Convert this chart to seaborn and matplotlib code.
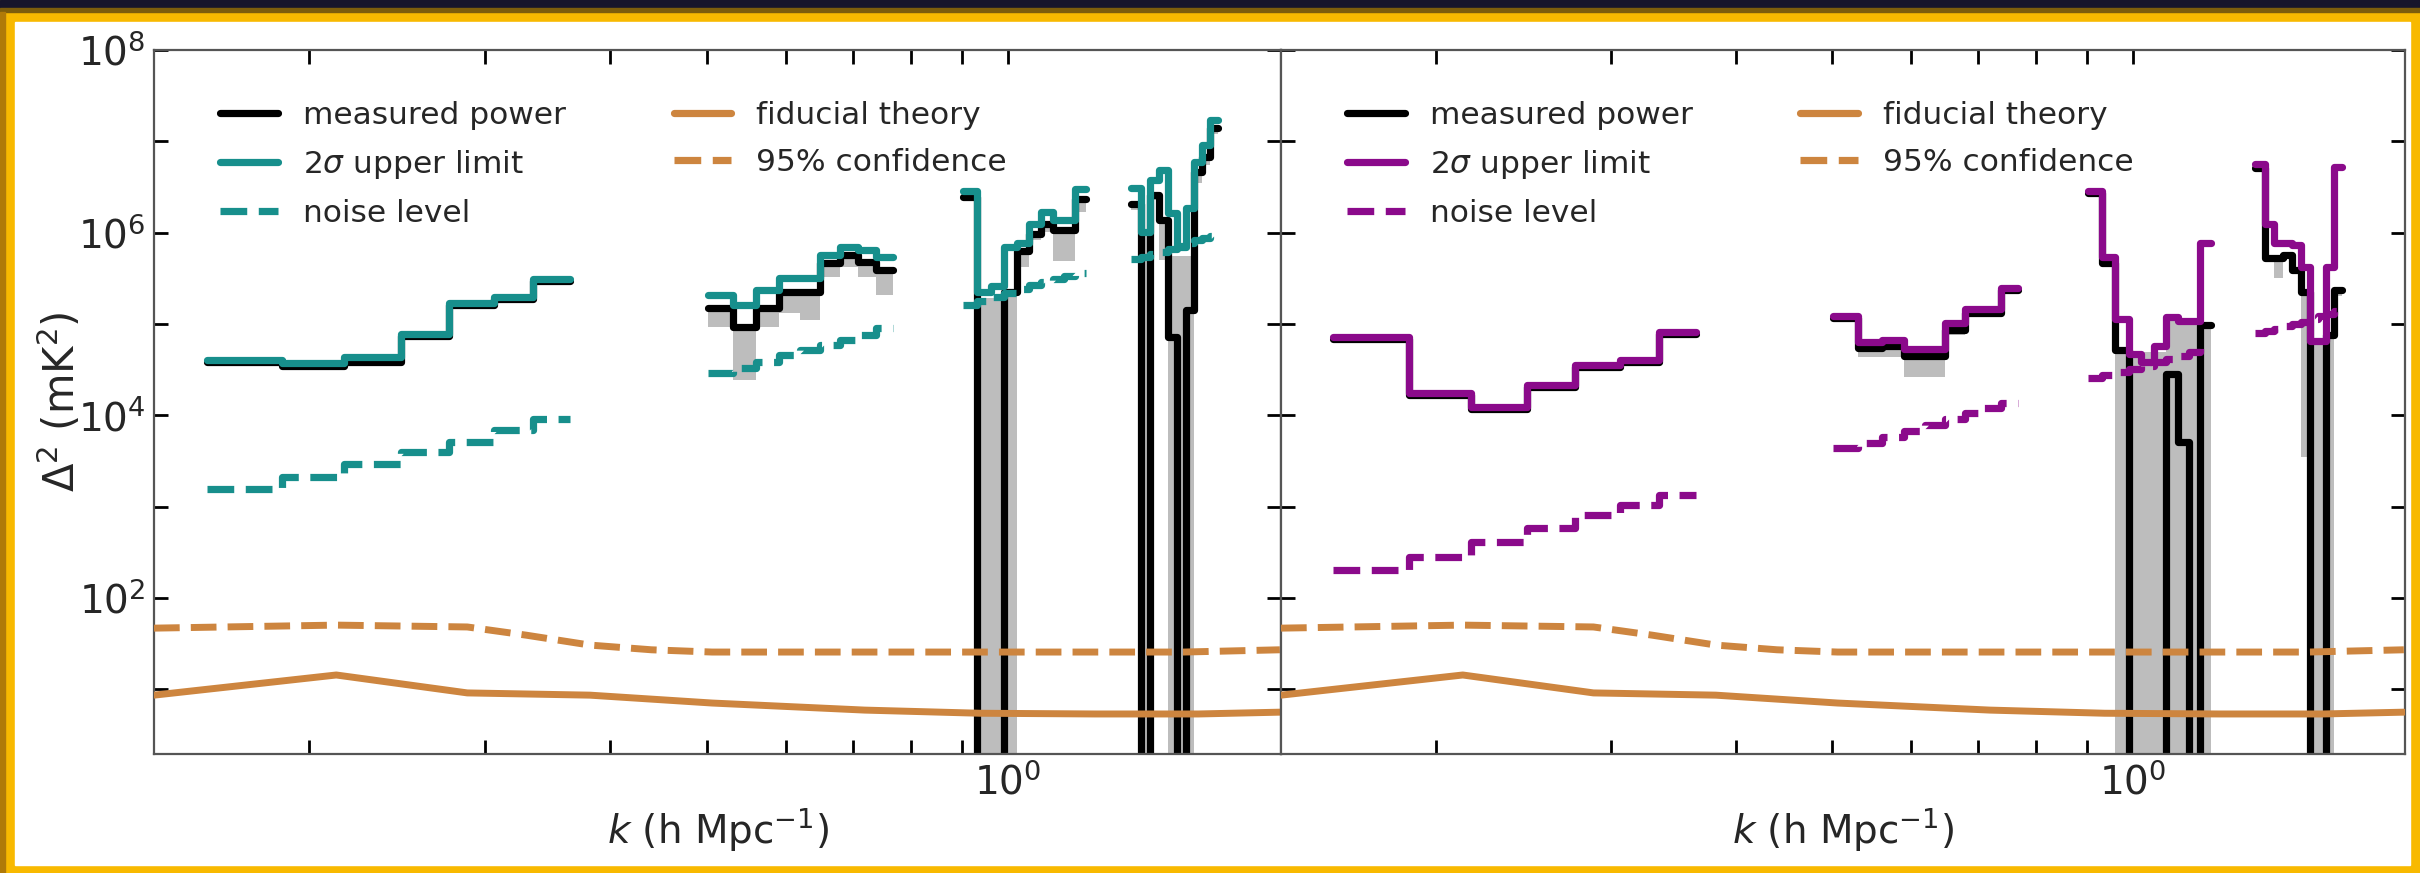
import numpy as np
import pandas as pd
import matplotlib
matplotlib.use("Agg")
import matplotlib.pyplot as plt
from matplotlib.patches import Rectangle
from matplotlib.lines import Line2D
from matplotlib.ticker import LogLocator, FuncFormatter, NullFormatter, NullLocator, LogFormatterSciNotation
import seaborn as sns

# ---------------------------------------------------------------------------
# k-bin edges (h/Mpc) of the four contiguous blocks of the spectrum
edges_1 = [0.158, 0.188, 0.217, 0.247, 0.276, 0.306, 0.335, 0.365]
edges_2 = [0.501, 0.531, 0.560, 0.590, 0.619, 0.649, 0.679, 0.708, 0.738, 0.767]
edges_3 = [0.902, 0.932, 0.961, 0.991, 1.020, 1.050, 1.080, 1.109, 1.139, 1.168, 1.198]
edges_4 = [1.327, 1.357, 1.386, 1.416, 1.445, 1.475, 1.505, 1.534, 1.564, 1.593, 1.623]

# ---- left field: Delta^2 in mK^2 (negative = measured power below zero)
a_upper_1 = [4.03e4, 3.73e4, 4.34e4, 7.75e4, 1.69e5, 1.97e5, 3.10e5]
a_power_1 = [3.87e4, 3.46e4, 3.87e4, 7.38e4, 1.62e5, 1.89e5, 2.96e5]
a_lo_1 = [3.6e4, 3.2e4, 3.6e4, 6.9e4, 1.5e5, 1.75e5, 2.75e5]
a_hi_1 = [3.87e4, 3.46e4, 3.87e4, 7.38e4, 1.62e5, 1.89e5, 2.96e5]
a_noise_1 = [1.56e3, 2.10e3, 2.92e3, 3.95e3, 5.08e3, 6.89e3, 9.09e3]

a_upper_2 = [2.07e5, 1.61e5, 2.35e5, 3.18e5, 3.18e5, 5.69e5, 6.96e5, 6.45e5, 5.40e5]
a_power_2 = [1.49e5, 9.25e4, 1.49e5, 2.23e5, 2.23e5, 4.65e5, 5.69e5, 4.76e5, 3.89e5]
a_lo_2 = [9.25e4, 2.43e4, 9.25e4, 1.31e5, 1.10e5, 3.26e5, 4.20e5, 3.26e5, 2.07e5]
a_hi_2 = [1.49e5, 9.25e4, 1.49e5, 2.23e5, 2.23e5, 4.65e5, 5.69e5, 4.76e5, 3.89e5]
a_noise_2 = [2.90e4, 3.29e4, 3.83e4, 4.56e4, 5.17e4, 5.87e4, 6.66e4, 7.56e4, 9.01e4]

a_upper_3 = [2.86e6, 2.23e5, 2.60e5, 6.96e5, 7.69e5, 1.24e6, 1.68e6, 1.37e6, 1.37e6, 3.01e6]
a_power_3 = [2.45e6, -1.5e5, -1.2e5, 2.23e5, 6.28e5, 9.66e5, 1.24e6, 1.07e6, 1.07e6, 2.33e6]
a_lo_3 = [2.27e6, -6e5, -6e5, -5e5, 4.20e5, 8.30e5, 1.02e6, 4.89e5, 4.89e5, 1.68e6]
a_hi_3 = [2.45e6, 1.92e5, 1.92e5, 2.23e5, 6.28e5, 9.66e5, 1.24e6, 1.07e6, 1.07e6, 2.33e6]
a_noise_3 = [1.61e5, 1.78e5, 1.97e5, 2.18e5, 2.41e5, 2.67e5, 2.88e5, 3.10e5, 3.35e5, 3.61e5]

a_upper_4 = [3.08e6, 1.02e6, 3.77e6, 4.85e6, 1.64e6, 6.96e5, 1.86e6, 5.93e6, 9.10e6, 1.71e7]
a_power_4 = [2.06e6, -8e5, 2.58e6, 1.37e6, 7.19e4, -3e5, 1.42e5, 4.61e6, 6.74e6, 1.40e7]
a_lo_4 = [1.77e6, -2e6, 2.27e6, 5.0e5, -5e5, -5e5, -5e5, 3.5e6, 5.5e6, 1.2e7]
a_hi_4 = [2.06e6, 9.5e5, 2.58e6, 1.37e6, 5.5e5, 5.5e5, 5.5e5, 4.61e6, 6.74e6, 1.40e7]
a_noise_4 = [5.14e5, 5.40e5, 5.83e5, 6.13e5, 6.61e5, 7.13e5, 7.69e5, 8.30e5, 8.73e5, 9.18e5]

# ---- right field
b_upper_1 = [7.19e4, 1.75e4, 1.23e4, 2.14e4, 3.55e4, 4.03e4, 8.15e4]
b_power_1 = [6.8e4, 1.66e4, 1.17e4, 2.03e4, 3.37e4, 3.83e4, 7.74e4]
b_lo_1 = [6.4e4, 1.55e4, 1.1e4, 1.9e4, 3.15e4, 3.6e4, 7.3e4]
b_hi_1 = [6.8e4, 1.66e4, 1.17e4, 2.03e4, 3.37e4, 3.83e4, 7.74e4]
b_noise_1 = [202, 280, 408, 582, 807, 1038, 1336]

b_upper_2 = [1.22e5, 6.34e4, 6.66e4, 5.31e4, 5.31e4, 1.02e5, 1.46e5, 1.46e5, 2.47e5]
b_power_2 = [1.16e5, 5.45e4, 5.73e4, 4.45e4, 4.45e4, 8.57e4, 1.31e5, 1.31e5, 2.35e5]
b_lo_2 = [1.10e5, 4.34e4, 4.34e4, 2.62e4, 2.62e4, 7.56e4, 1.22e5, 1.22e5, 2.18e5]
b_hi_2 = [1.16e5, 5.45e4, 5.73e4, 4.45e4, 4.45e4, 8.57e4, 1.31e5, 1.31e5, 2.35e5]
b_noise_2 = [4.37e3, 4.97e3, 5.77e3, 6.71e3, 7.81e3, 9.09e3, 1.06e4, 1.20e4, 1.36e4]

b_upper_3 = [2.86e6, 5.40e5, 1.13e5, 4.68e4, 3.83e4, 5.73e4, 1.19e5, 1.08e5, 1.08e5, 7.69e5]
b_power_3 = [2.7e6, 4.65e5, 5.17e4, -2e5, -2e5, -2e5, 2.83e4, 5.08e3, -1e5, 9.73e4]
b_lo_3 = [2.5e6, 4.2e5, -5e5, -5e5, -5e5, -5e5, -5e5, -5e5, -5e5, -5e5]
b_hi_3 = [2.7e6, 4.65e5, 5.17e4, 4.92e4, 4.92e4, 4.92e4, 1.13e5, 1.08e5, 1.08e5, 9.73e4]
b_noise_3 = [2.55e4, 2.75e4, 2.97e4, 3.21e4, 3.46e4, 3.83e4, 4.13e4, 4.45e4, 4.92e4, 5.45e4]

b_upper_4 = [5.64e6, 1.24e6, 7.69e5, 7.69e5, 7.31e5, 4.20e5, 6.50e4, 6.50e4, 4.20e5, 5.24e6]
b_power_4 = [5.1e6, 5.27e5, 5.27e5, 5.69e5, 3.89e5, 2.23e5, -2e5, -2e5, 7.5e4, 2.35e5]
b_lo_4 = [4.6e6, 4.8e5, 3.18e5, 5.2e5, 3.5e5, 3.48e3, -5e5, -5e5, -5e5, 2.0e5]
b_hi_4 = [5.1e6, 5.27e5, 5.27e5, 5.69e5, 3.89e5, 2.23e5, 6.5e4, 6.5e4, 7.5e4, 2.35e5]
b_noise_4 = [7.94e4, 8.36e4, 8.80e4, 9.49e4, 1.0e5, 1.05e5, 1.13e5, 1.22e5, 1.28e5, 1.38e5]

# ---- theory curves (same for both fields)
theory_k = [0.14, 0.213, 0.288, 0.382, 0.506, 0.719, 0.937, 1.222, 1.55, 1.87]
theory_fiducial = [8.6, 14.3, 9.1, 8.6, 7.05, 5.9, 5.45, 5.35, 5.35, 5.6]
conf_k = [0.14, 0.213, 0.288, 0.33, 0.382, 0.44, 0.506, 1.0, 1.5, 1.87]
conf_95 = [46.6, 50.3, 48.0, 39.0, 30.4, 27.0, 25.5, 25.5, 25.5, 27.0]

legend_labels = ["measured power", r"2$\sigma$ upper limit", "noise level",
                 "fiducial theory", "95% confidence"]

# ---------------------------------------------------------------------------
TEAL = "#178f8c"
PURPLE = "#8b0a8b"
ORANGE = "#cd853f"
GREY = "#bdbdbd"
LW = 5.2

sns.set_theme(style="ticks")
plt.rcParams["font.family"] = ["DejaVu Sans"]
plt.rcParams["mathtext.fontset"] = "dejavusans"


def step_line(ax, edges, vals, **kw):
    df = pd.DataFrame({"k": edges, "v": list(vals) + [vals[-1]]})
    sns.lineplot(data=df, x="k", y="v", ax=ax, drawstyle="steps-post",
                 estimator=None, sort=False, errorbar=None, legend=False, **kw)


def draw_field(ax, blocks, color):
    for edges, up, pw, lo, hi, nz in blocks:
        ax.fill_between(edges, list(lo) + [lo[-1]], list(hi) + [hi[-1]],
                        step="post", color=GREY, lw=0, zorder=1)
        step_line(ax, edges, pw, color="black", lw=LW, zorder=2)
        step_line(ax, edges, nz, color=color, lw=LW, linestyle="--", zorder=2.5)
        step_line(ax, edges, up, color=color, lw=LW, zorder=3)
    sns.lineplot(x=theory_k, y=theory_fiducial, ax=ax, color=ORANGE, lw=5,
                 estimator=None, sort=False, errorbar=None, legend=False, zorder=4)
    sns.lineplot(x=conf_k, y=conf_95, ax=ax, color=ORANGE, lw=5, linestyle="--",
                 estimator=None, sort=False, errorbar=None, legend=False, zorder=4)


def y_fmt(v, pos):
    e = int(round(np.log10(v)))
    return rf"$10^{{{e}}}$" if (e % 2 == 0 and e >= 2) else ""


def style_axes(ax, color, show_y):
    ax.set_xscale("log")
    ax.set_yscale("log")
    ax.set_xlim(0.14, 1.875)
    ax.set_ylim(1.95, 1e8)
    ax.xaxis.set_major_locator(LogLocator(base=10))
    ax.xaxis.set_major_formatter(LogFormatterSciNotation())
    ax.xaxis.set_minor_locator(LogLocator(base=10, subs=np.arange(2, 10)))
    ax.xaxis.set_minor_formatter(NullFormatter())
    ax.yaxis.set_major_locator(LogLocator(base=10, numticks=20))
    ax.yaxis.set_major_formatter(FuncFormatter(y_fmt))
    ax.yaxis.set_minor_locator(NullLocator())
    ax.tick_params(which="both", direction="in", top=True, right=True,
                   length=10, width=2, color="black", labelsize=28, pad=6)
    ax.tick_params(axis="y", labelleft=show_y)
    for s in ax.spines.values():
        s.set_color("#555555")
        s.set_linewidth(1.6)
    ax.set_facecolor("white")
    ax.set_xlabel(r"$k$ (h Mpc$^{-1}$)", fontsize=28, labelpad=3)
    if show_y:
        ax.set_ylabel(r"$\Delta^2$ (mK$^2$)", fontsize=30, labelpad=-4)
    else:
        ax.set_ylabel("")
    handles = [
        Line2D([], [], color="black", lw=LW),
        Line2D([], [], color=color, lw=LW),
        Line2D([], [], color=color, lw=LW, linestyle="--"),
        Line2D([], [], color=ORANGE, lw=LW),
        Line2D([], [], color=ORANGE, lw=LW, linestyle="--"),
    ]
    ax.legend(handles, legend_labels, ncol=2, loc="upper left",
              bbox_to_anchor=(0.0586, 0.928), frameon=False, fontsize=22.5,
              handlelength=1.85, handletextpad=0.8, columnspacing=3.45,
              labelspacing=0.58, borderpad=0, borderaxespad=0)


fig = plt.figure(figsize=(24.2, 8.73), dpi=100)
fig.patch.set_facecolor("#f8b900")
W, H = 2420.0, 873.0
fig.add_artist(Rectangle((0, 1 - 8 / H), 1, 8 / H, transform=fig.transFigure,
                         color="#17152b", zorder=-10))
fig.add_artist(Rectangle((0, 1 - 12 / H), 1, 4 / H, transform=fig.transFigure,
                         color="#7d5d0c", zorder=-10))
fig.add_artist(Rectangle((0, 0), 5 / W, 1 - 12 / H, transform=fig.transFigure,
                         color="#b07a08", zorder=-10))
fig.add_artist(Rectangle((15 / W, 1 - 865 / H), (2410 - 15) / W, (865 - 22) / H,
                         transform=fig.transFigure, color="white", zorder=-9))

ax1 = fig.add_axes([154 / W, 1 - 754 / H, 1127 / W, 704 / H])
ax2 = fig.add_axes([1281 / W, 1 - 754 / H, 1124 / W, 704 / H])

blocks_a = [
    (edges_1, a_upper_1, a_power_1, a_lo_1, a_hi_1, a_noise_1),
    (edges_2, a_upper_2, a_power_2, a_lo_2, a_hi_2, a_noise_2),
    (edges_3, a_upper_3, a_power_3, a_lo_3, a_hi_3, a_noise_3),
    (edges_4, a_upper_4, a_power_4, a_lo_4, a_hi_4, a_noise_4),
]
blocks_b = [
    (edges_1, b_upper_1, b_power_1, b_lo_1, b_hi_1, b_noise_1),
    (edges_2, b_upper_2, b_power_2, b_lo_2, b_hi_2, b_noise_2),
    (edges_3, b_upper_3, b_power_3, b_lo_3, b_hi_3, b_noise_3),
    (edges_4, b_upper_4, b_power_4, b_lo_4, b_hi_4, b_noise_4),
]

draw_field(ax1, blocks_a, TEAL)
draw_field(ax2, blocks_b, PURPLE)
style_axes(ax1, TEAL, True)
style_axes(ax2, PURPLE, False)

fig.savefig("out.png", dpi=100)
